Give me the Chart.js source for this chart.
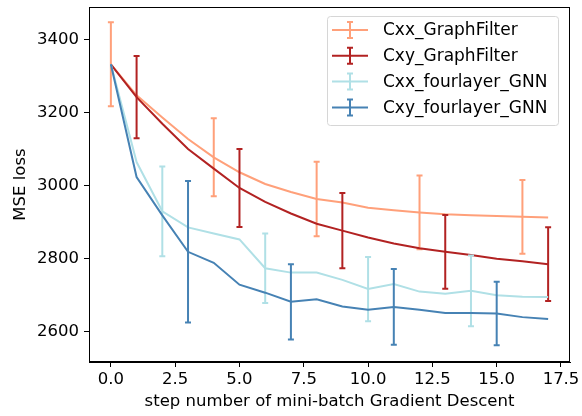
<!DOCTYPE html>
<html>
<head>
<meta charset="utf-8">
<script src="https://cdn.jsdelivr.net/npm/chart.js@4"></script>
<style>
  html, body { margin: 0; padding: 0; background: #fff; }
</style>
</head>
<body>
<canvas id="chart" width="582" height="416"></canvas>
<script>
const steps = [0, 1, 2, 3, 4, 5, 6, 7, 8, 9, 10, 11, 12, 13, 14, 15, 16, 17];

const cxxGraphFilter = [3332, 3247, 3186, 3127, 3077, 3036, 3004, 2982, 2963, 2953, 2939, 2932, 2926, 2921, 2918, 2916, 2914, 2912];
const cxyGraphFilter = [3332, 3242, 3169, 3100, 3046, 2993, 2955, 2923, 2895, 2876, 2857, 2841, 2828, 2818, 2809, 2799, 2792, 2784];
const cxxFourlayer   = [3332, 3064, 2929, 2885, 2868, 2852, 2773, 2761, 2761, 2741, 2716, 2730, 2709, 2703, 2711, 2699, 2695, 2694];
const cxyFourlayer   = [3332, 3023, 2918, 2818, 2788, 2728, 2706, 2681, 2688, 2668, 2659, 2667, 2659, 2650, 2650, 2649, 2639, 2634];

// half-length of the error bars, null where no bar is drawn
const cxxGraphFilterErr = [115, null, null, null, 107, null, null, null, 102, null, null, null, 101, null, null, null, 101, null];
const cxyGraphFilterErr = [null, 113, null, null, null, 107, null, null, null, 103, null, null, null, 101, null, null, null, 101];
const cxxFourlayerErr   = [null, null, 123, null, null, null, 95, null, null, null, 88, null, null, null, 97, null, null, null];
const cxyFourlayerErr   = [null, null, null, 194, null, null, null, 103, null, null, null, 104, null, null, null, 87, null, null];

const xTicks = [0, 2.5, 5, 7.5, 10, 12.5, 15, 17.5];
const yTicks = [2600, 2800, 3000, 3200, 3400];

const FONT = "'DejaVu Sans', sans-serif";
Chart.defaults.font.family = FONT;
Chart.defaults.font.size = 16.5;
Chart.defaults.color = '#000';

function series(label, values, errors, color, order) {
    return {
        label: label,
        data: steps.map((s, i) => ({ x: s, y: values[i] })),
        errors: errors,
        borderColor: color,
        backgroundColor: color,
        borderWidth: 2,
        pointRadius: 0,
        tension: 0,
        fill: false,
        order: order
    };
}

const errorBars = {
    id: 'errorBars',
    afterDatasetDraw(chart, args) {
        const ds = chart.data.datasets[args.index];
        if (!ds.errors) return;
        const ctx = chart.ctx;
        const xs = chart.scales.x, ys = chart.scales.y;
        ctx.save();
        ctx.strokeStyle = ds.borderColor;
        ctx.lineWidth = 2;
        ds.data.forEach((p, i) => {
            const e = ds.errors[i];
            if (e == null) return;
            const px = xs.getPixelForValue(p.x);
            const top = ys.getPixelForValue(p.y + e);
            const bot = ys.getPixelForValue(p.y - e);
            ctx.beginPath();
            ctx.moveTo(px, top); ctx.lineTo(px, bot);
            ctx.moveTo(px - 3, top); ctx.lineTo(px + 3, top);
            ctx.moveTo(px - 3, bot); ctx.lineTo(px + 3, bot);
            ctx.stroke();
        });
        ctx.restore();
    }
};

const frameAndLegend = {
    id: 'frameAndLegend',
    afterDraw(chart) {
        const ctx = chart.ctx;
        const a = chart.chartArea;
        ctx.save();
        ctx.strokeStyle = '#000';
        ctx.lineWidth = 1;
        ctx.strokeRect(Math.round(a.left) + 0.5, Math.round(a.top) + 0.5,
            Math.round(a.right - a.left) - 1, Math.round(a.bottom - a.top) - 1);

        // legend box, top right like matplotlib
        const bx = 327, by = 16, bw = 231, bh = 109;
        ctx.beginPath();
        ctx.roundRect(bx + 0.5, by + 0.5, bw, bh, 3);
        ctx.fillStyle = 'rgba(255,255,255,0.8)';
        ctx.fill();
        ctx.strokeStyle = '#d6d6d6';
        ctx.stroke();

        ctx.font = '17px ' + FONT;
        ctx.textBaseline = 'middle';
        ctx.fillStyle = '#000';
        chart.data.datasets.forEach((ds, i) => {
            const cy = 30 + i * 25.8;
            ctx.strokeStyle = ds.borderColor;
            ctx.lineWidth = 2;
            ctx.beginPath();
            ctx.moveTo(332, cy); ctx.lineTo(368, cy);
            ctx.moveTo(350, cy - 8); ctx.lineTo(350, cy + 8);
            ctx.moveTo(347, cy - 8); ctx.lineTo(353, cy - 8);
            ctx.moveTo(347, cy + 8); ctx.lineTo(353, cy + 8);
            ctx.stroke();
            ctx.fillText(ds.label, 383, cy + 1);
        });
        ctx.restore();
    }
};

new Chart(document.getElementById('chart'), {
    type: 'line',
    data: {
        datasets: [
            series('Cxx_GraphFilter', cxxGraphFilter, cxxGraphFilterErr, 'lightsalmon', 4),
            series('Cxy_GraphFilter', cxyGraphFilter, cxyGraphFilterErr, 'firebrick', 3),
            series('Cxx_fourlayer_GNN', cxxFourlayer, cxxFourlayerErr, 'powderblue', 2),
            series('Cxy_fourlayer_GNN', cxyFourlayer, cxyFourlayerErr, 'steelblue', 1)
        ]
    },
    options: {
        responsive: false,
        animation: false,
        devicePixelRatio: 1,
        layout: { padding: { top: 7, right: 12, left: 0, bottom: 0 } },
        plugins: {
            legend: { display: false },
            tooltip: { enabled: false }
        },
        scales: {
            x: {
                type: 'linear',
                min: -0.85,
                max: 17.85,
                afterBuildTicks: s => { s.ticks = xTicks.map(v => ({ value: v })); },
                afterFit: s => { s.height = 54; s.paddingLeft = 0; s.paddingRight = 0; },
                ticks: { callback: v => v.toFixed(1), padding: 3, maxRotation: 0, autoSkip: false },
                grid: { drawOnChartArea: false, tickLength: 5, tickColor: '#000' },
                border: { color: '#000' },
                title: { display: true, text: 'step number of mini-batch Gradient Descent', padding: { top: 0, bottom: 4 } }
            },
            y: {
                type: 'linear',
                min: 2516,
                max: 3489,
                afterBuildTicks: s => { s.ticks = yTicks.map(v => ({ value: v })); },
                afterFit: s => { s.width = 89; s.paddingTop = 0; s.paddingBottom = 0; },
                ticks: { callback: v => String(v), padding: 5, autoSkip: false },
                grid: { drawOnChartArea: false, tickLength: 5, tickColor: '#000' },
                border: { color: '#000' },
                title: { display: true, text: 'MSE loss', padding: { top: 11, bottom: 0 } }
            }
        }
    },
    plugins: [errorBars, frameAndLegend]
});
</script>
</body>
</html>
